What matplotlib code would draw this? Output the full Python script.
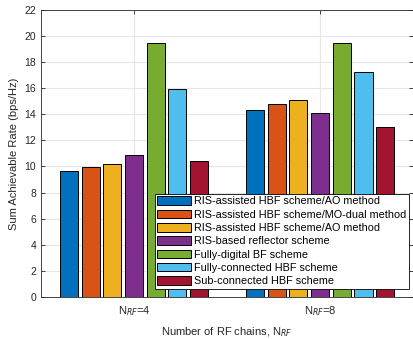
import matplotlib.pyplot as plt
import numpy as np

plt.rcParams["font.family"] = ["Liberation Sans", "DejaVu Sans"]

groups = ["N$_{RF}$=4", "N$_{RF}$=8"]
labels = [
    "RIS-assisted HBF scheme/AO method",
    "RIS-assisted HBF scheme/MO-dual method",
    "RIS-assisted HBF scheme/AO method",
    "RIS-based reflector scheme",
    "Fully-digital BF scheme",
    "Fully-connected HBF scheme",
    "Sub-connected HBF scheme",
]
rates_nrf4 = [9.65, 9.98, 10.17, 10.88, 19.45, 15.95, 10.43]
rates_nrf8 = [14.33, 14.82, 15.07, 14.13, 19.48, 17.24, 13.04]
colors = ["#0072BD", "#D95319", "#EDB120", "#7E2F8E", "#77AC30", "#4DBEEE", "#A2142F"]

fig = plt.figure(figsize=(4.14, 3.39), dpi=100)
ax = fig.add_axes([0.099, 0.124, 0.899, 0.847])

x = np.arange(1, len(groups) + 1)
n = len(labels)
step = 0.1165
for i in range(n):
    vals = [rates_nrf4[i], rates_nrf8[i]]
    ax.bar(x + (i - (n - 1) / 2) * step, vals, width=0.097,
           color=colors[i], edgecolor="black", linewidth=0.7,
           label=labels[i], zorder=3)

ax.set_xlim(0.5, 2.5)
ax.set_ylim(0, 22)
ax.set_yticks(np.arange(0, 23, 2))
ax.set_xticks(x)
ax.set_xticklabels(groups)
ax.tick_params(direction="in", labelsize=7.5, top=True, right=True,
               length=3, width=0.6, colors="#262626")
ax.tick_params(axis="x", labelsize=8, pad=5)
ax.grid(True, color="#e6e6e6", linewidth=0.8, zorder=0)
for s in ax.spines.values():
    s.set_color("#262626")
    s.set_linewidth(0.6)

ax.set_ylabel("Sum Achievable Rate (bps/Hz)", fontsize=8, color="#262626")
ax.set_xlabel("Number of RF chains, N$_{RF}$", fontsize=8, color="#262626",
              labelpad=5.5)

leg = ax.legend(loc="lower right", bbox_to_anchor=(0.988, 0.028), fontsize=7.8,
                frameon=True, fancybox=False, edgecolor="black", framealpha=1,
                handlelength=3.1, handleheight=0.85, labelspacing=0.3,
                borderpad=0.25, handletextpad=0.25, borderaxespad=0)
leg.get_frame().set_linewidth(0.6)
leg.set_zorder(5)

fig.savefig("out.png", dpi=100)
